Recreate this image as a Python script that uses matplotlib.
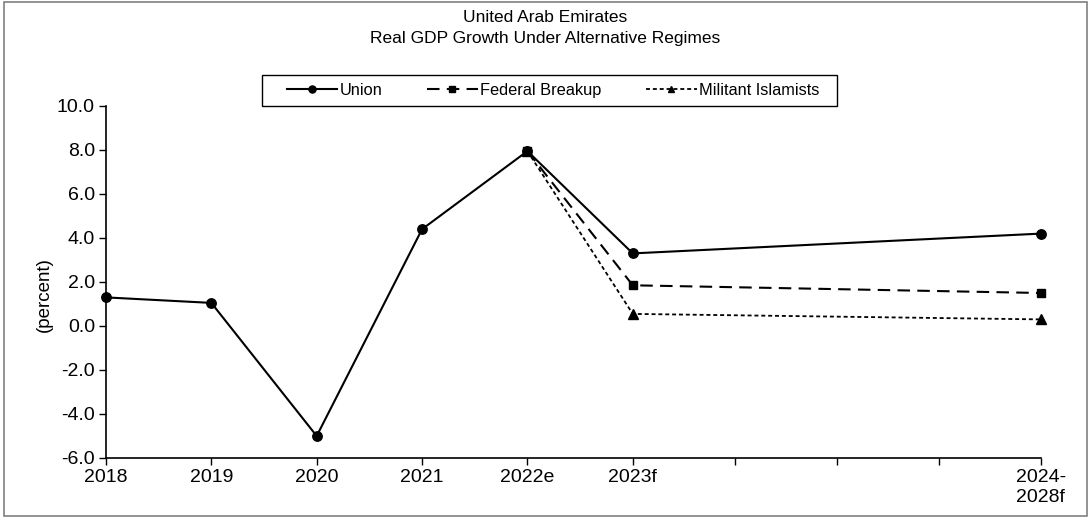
import matplotlib
matplotlib.use("Agg")
import matplotlib.pyplot as plt
import numpy as np
from matplotlib.patches import Rectangle

plt.rcParams['font.family'] = ['Liberation Sans', 'DejaVu Sans']

#####################################################################################
categories = ['2018', '2019', '2020', '2021', '2022e', '2023f', '2024-\n2028f']
xpos = [0, 1, 2, 3, 4, 5, 8.875]

union = [1.3, 1.05, -5.0, 4.4, 7.95, 3.3, 4.2]
federal = [np.nan, np.nan, np.nan, np.nan, 7.95, 1.85, 1.5]
militant = [np.nan, np.nan, np.nan, np.nan, 7.95, 0.55, 0.3]

#####################################################################################
fig = plt.figure(figsize=(10.91, 5.18), dpi=100)
ax = fig.add_axes([106/1091, 1-458/518, (1041-106)/1091, (458-106)/518])

ax.plot(xpos, union, color='black', lw=1.5, marker='o', ms=6.8, label='Union', clip_on=False, zorder=3)
ax.plot(xpos, federal, color='black', lw=1.5, ls=(0, (6, 3.5)), marker='s', ms=6.3,
        label='Federal Breakup', clip_on=False, zorder=4)
ax.plot(xpos, militant, color='black', lw=1.3, ls=(0, (2.2, 1.6)), marker='^', ms=6.5,
        label='Militant Islamists', clip_on=False, zorder=5)

#####################################################################################
ax.set_xlim(0, 8.875)
ax.set_ylim(-6, 10)
yt = np.arange(-6, 10.1, 2)
ax.set_yticks(yt)
ax.set_yticklabels(['%.1f' % v for v in yt])

ax.set_xticks(xpos)
ax.set_xticklabels(categories, multialignment='left')
ax.set_xticks(np.linspace(5, 8.875, 5)[1:-1], minor=True)

ax.tick_params(axis='both', which='both', direction='out', length=5, width=1, labelsize=14, color='black')
ax.tick_params(axis='x', pad=3)
ax.tick_params(axis='y', pad=3)

for s in ['top', 'right']:
    ax.spines[s].set_visible(False)
for s in ['left', 'bottom']:
    ax.spines[s].set_linewidth(1.2)

ax.set_ylabel('(percent)', fontsize=13.5)
ax.yaxis.set_label_coords(-0.057, 0.463)

fig.text(0.5, 1-18/518, 'United Arab Emirates', ha='center', va='center', fontsize=12.5)
fig.text(0.5, 1-38/518, 'Real GDP Growth Under Alternative Regimes', ha='center', va='center', fontsize=12.5)

# legend: frameless, box drawn separately
leg = fig.legend(*ax.get_legend_handles_labels(), loc='center', bbox_to_anchor=(553/1091, 1-90.5/518),
                 ncol=3, fontsize=11.8, frameon=False, handlelength=3.1, markerscale=0.75,
                 columnspacing=2.7, borderpad=0.0, handletextpad=0.15)
fig.patches.append(Rectangle((262/1091, 1-106/518), (837-262)/1091, 31/518, transform=fig.transFigure,
                             fill=False, edgecolor='black', lw=1.0))

fig.patches.append(Rectangle((4/1091, 2/518), 1083/1091, 514/518, transform=fig.transFigure,
                             fill=False, edgecolor='#808080', lw=1.2))

#####################################################################################
fig.savefig("out.png", dpi=100)
